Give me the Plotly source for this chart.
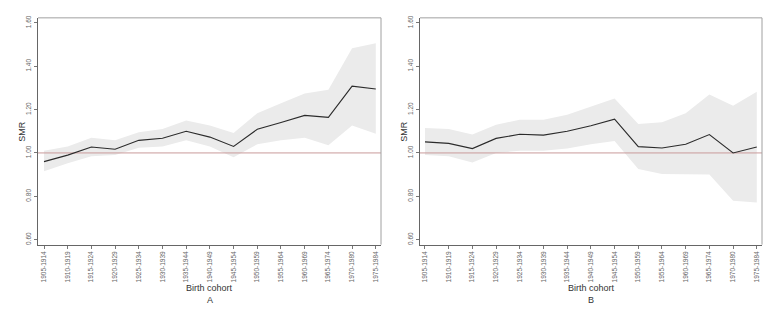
import plotly.graph_objects as go

cohorts = ["1905-1914", "1910-1919", "1915-1924", "1920-1929", "1925-1934",
           "1930-1939", "1935-1944", "1940-1949", "1945-1954", "1950-1959",
           "1955-1964", "1960-1969", "1965-1974", "1970-1980", "1975-1984"]

smr_a = [0.96, 0.99, 1.027, 1.017, 1.058, 1.068, 1.10, 1.073, 1.030, 1.109,
         1.14, 1.173, 1.164, 1.308, 1.295]
upper_a = [1.01, 1.03, 1.07, 1.058, 1.095, 1.11, 1.15, 1.127, 1.092, 1.183,
           1.229, 1.274, 1.292, 1.483, 1.506]
lower_a = [0.915, 0.952, 0.985, 0.99, 1.024, 1.03, 1.058, 1.03, 0.98, 1.04,
           1.058, 1.07, 1.036, 1.127, 1.088]

smr_b = [1.051, 1.044, 1.02, 1.067, 1.086, 1.082, 1.10, 1.125, 1.156, 1.029,
         1.023, 1.04, 1.085, 1.00, 1.027]
upper_b = [1.115, 1.11, 1.085, 1.13, 1.153, 1.153, 1.176, 1.214, 1.251, 1.133,
           1.142, 1.183, 1.27, 1.218, 1.282]
lower_b = [0.99, 0.985, 0.956, 1.0, 1.01, 1.01, 1.02, 1.04, 1.055, 0.926,
           0.903, 0.90, 0.90, 0.779, 0.771]

y_ticks = [0.6, 0.8, 1.0, 1.2, 1.4, 1.6]
y_ticktext = ["0.60", "0.80", "1.00", "1.20", "1.40", "1.60"]
ref_value = 1.0
panel_labels = ["A", "B"]

W, H = 778, 311
panels = [
    dict(smr=smr_a, up=upper_a, lo=lower_a, xd=[38 / W, 381 / W], xr=[-0.253, 14.22]),
    dict(smr=smr_b, up=upper_b, lo=lower_b, xd=[420 / W, 762 / W], xr=[-0.21, 14.22]),
]
yd = [1 - 244 / H, 1 - 15 / H]

fig = go.Figure()
idx = list(range(len(cohorts)))
band_color = "#ebebeb"
layout_axes = {}
shapes = []
annotations = []

for i, p in enumerate(panels):
    n = "" if i == 0 else str(i + 1)
    xa, ya = "x" + n, "y" + n
    # CI band
    fig.add_trace(go.Scatter(x=idx, y=p["lo"], mode="lines", line=dict(width=0, color=band_color),
                             xaxis=xa, yaxis=ya, showlegend=False, hoverinfo="skip"))
    fig.add_trace(go.Scatter(x=idx, y=p["up"], mode="lines", line=dict(width=0, color=band_color),
                             fill="tonexty", fillcolor=band_color,
                             xaxis=xa, yaxis=ya, showlegend=False, hoverinfo="skip"))
    # reference line
    fig.add_trace(go.Scatter(x=[p["xr"][0], p["xr"][1]], y=[ref_value, ref_value], mode="lines",
                             line=dict(width=1, color="#c99a9a"),
                             xaxis=xa, yaxis=ya, showlegend=False, hoverinfo="skip"))
    # SMR line
    fig.add_trace(go.Scatter(x=idx, y=p["smr"], mode="lines", line=dict(width=1.1, color="#2b2b2b"),
                             xaxis=xa, yaxis=ya, showlegend=False))

    layout_axes["xaxis" + n] = dict(
        domain=p["xd"], range=p["xr"], anchor=ya,
        tickmode="array", tickvals=idx, ticktext=cohorts, tickangle=-90,
        tickfont=dict(size=6.5, color="#666", family="Liberation Sans"),
        ticks="outside", ticklen=3, tickcolor="#777", tickwidth=1,
        showline=True, linecolor="#666", linewidth=1.2,
        showgrid=False, zeroline=False,
    )
    layout_axes["yaxis" + n] = dict(
        domain=yd, range=[0.577, 1.623], anchor=xa,
        tickmode="array", tickvals=y_ticks, ticktext=y_ticktext, tickangle=-90,
        tickfont=dict(size=6.5, color="#666", family="Liberation Sans"),
        ticks="outside", ticklen=3, tickcolor="#777", tickwidth=1,
        showline=True, linecolor="#666", linewidth=1.2,
        showgrid=False, zeroline=False,
    )
    x0, x1 = p["xd"]
    shapes.append(dict(type="line", xref="paper", yref="paper", x0=x0, x1=x1, y0=yd[1], y1=yd[1],
                       line=dict(color="#a0a0a0", width=1)))
    shapes.append(dict(type="line", xref="paper", yref="paper", x0=x1, x1=x1, y0=yd[0], y1=yd[1],
                       line=dict(color="#a0a0a0", width=1)))
    xc = (x0 + x1) / 2
    annotations.append(dict(text="Birth cohort", xref="paper", yref="paper", x=xc, y=1 - 288 / H,
                            showarrow=False, font=dict(size=9, color="#333", family="Liberation Sans"),
                            xanchor="center", yanchor="middle"))
    annotations.append(dict(text=panel_labels[i], xref="paper", yref="paper", x=xc, y=1 - 300 / H,
                            showarrow=False, font=dict(size=9, color="#333", family="Liberation Sans"),
                            xanchor="center", yanchor="middle"))
    annotations.append(dict(text="SMR", xref="paper", yref="paper", x=(x0 * W - 16) / W, y=1 - 130 / H,
                            showarrow=False, textangle=-90,
                            font=dict(size=9, color="#333", family="Liberation Sans"),
                            xanchor="center", yanchor="middle"))

fig.update_layout(
    width=W, height=H,
    margin=dict(l=0, r=0, t=0, b=0),
    paper_bgcolor="white", plot_bgcolor="white",
    shapes=shapes, annotations=annotations,
    **layout_axes,
)

fig.write_html("out.html", config={"displayModeBar": False},
               post_script="document.body.style.margin='0px';document.body.style.padding='0px';")
